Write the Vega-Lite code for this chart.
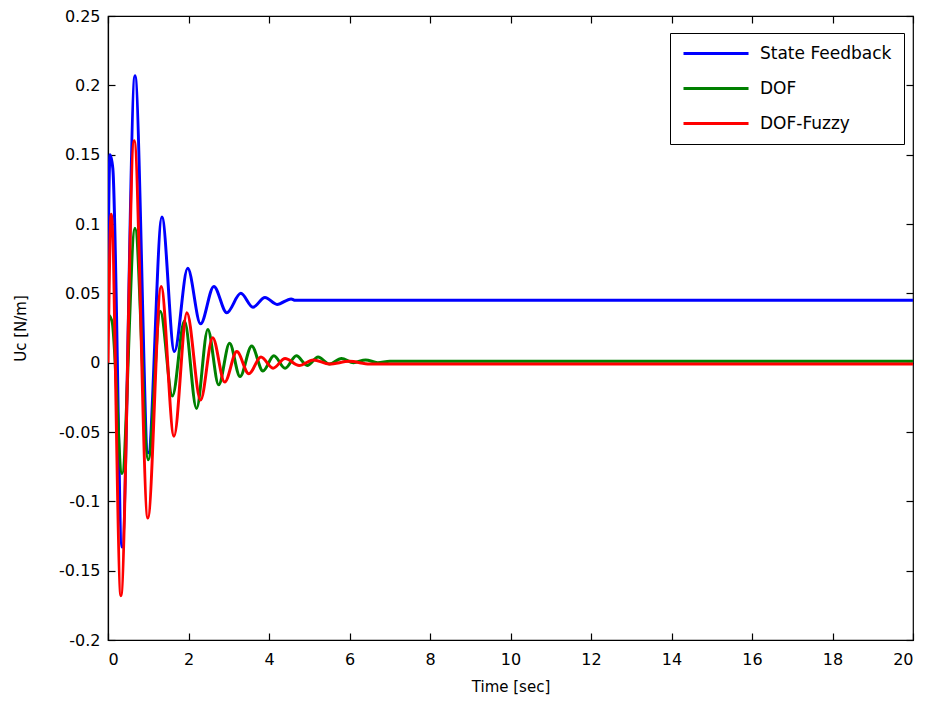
{
  "$schema": "https://vega.github.io/schema/vega-lite/v6.json",
  "autosize": "none",
  "padding": {"left": 108, "top": 16, "right": 12, "bottom": 62},
  "width": 805,
  "height": 624,
  "background": "white",
  "config": {
    "view": {"stroke": "black", "strokeWidth": 1.2},
    "font": "DejaVu Sans",
    "axis": {
      "grid": false,
      "domainColor": "black",
      "tickColor": "black",
      "labelColor": "black",
      "titleColor": "black",
      "labelFont": "DejaVu Sans",
      "titleFont": "DejaVu Sans",
      "labelFontSize": 16,
      "titleFontSize": 15,
      "titleFontWeight": "normal",
      "tickSize": -7,
      "domainWidth": 1.2,
      "tickWidth": 1.2
    }
  },
  "data": {"values": [
    {"t": 0, "v": 0.07, "s": "State Feedback"},
    {"t": 0.05, "v": 0.15, "s": "State Feedback"},
    {"t": 0.12, "v": 0.14, "s": "State Feedback"},
    {"t": 0.35, "v": -0.133, "s": "State Feedback"},
    {"t": 0.67, "v": 0.207, "s": "State Feedback"},
    {"t": 1.0, "v": -0.065, "s": "State Feedback"},
    {"t": 1.34, "v": 0.105, "s": "State Feedback"},
    {"t": 1.65, "v": 0.008, "s": "State Feedback"},
    {"t": 1.98, "v": 0.068, "s": "State Feedback"},
    {"t": 2.3, "v": 0.028, "s": "State Feedback"},
    {"t": 2.63, "v": 0.055, "s": "State Feedback"},
    {"t": 2.95, "v": 0.036, "s": "State Feedback"},
    {"t": 3.3, "v": 0.05, "s": "State Feedback"},
    {"t": 3.6, "v": 0.04, "s": "State Feedback"},
    {"t": 3.9, "v": 0.047, "s": "State Feedback"},
    {"t": 4.2, "v": 0.042, "s": "State Feedback"},
    {"t": 4.55, "v": 0.046, "s": "State Feedback"},
    {"t": 4.65, "v": 0.045, "s": "State Feedback"},
    {"t": 20, "v": 0.045, "s": "State Feedback"},
    {"t": 0, "v": 0.035, "s": "DOF"},
    {"t": 0.1, "v": 0.03, "s": "DOF"},
    {"t": 0.35, "v": -0.08, "s": "DOF"},
    {"t": 0.67, "v": 0.097, "s": "DOF"},
    {"t": 1.0, "v": -0.07, "s": "DOF"},
    {"t": 1.3, "v": 0.037, "s": "DOF"},
    {"t": 1.6, "v": -0.024, "s": "DOF"},
    {"t": 1.9, "v": 0.03, "s": "DOF"},
    {"t": 2.2, "v": -0.033, "s": "DOF"},
    {"t": 2.48, "v": 0.024, "s": "DOF"},
    {"t": 2.75, "v": -0.016, "s": "DOF"},
    {"t": 3.02, "v": 0.014, "s": "DOF"},
    {"t": 3.28, "v": -0.01, "s": "DOF"},
    {"t": 3.57, "v": 0.012, "s": "DOF"},
    {"t": 3.85, "v": -0.006, "s": "DOF"},
    {"t": 4.12, "v": 0.005, "s": "DOF"},
    {"t": 4.4, "v": -0.004, "s": "DOF"},
    {"t": 4.68, "v": 0.005, "s": "DOF"},
    {"t": 4.95, "v": -0.002, "s": "DOF"},
    {"t": 5.22, "v": 0.004, "s": "DOF"},
    {"t": 5.5, "v": -0.001, "s": "DOF"},
    {"t": 5.8, "v": 0.003, "s": "DOF"},
    {"t": 6.1, "v": 0.0, "s": "DOF"},
    {"t": 6.4, "v": 0.002, "s": "DOF"},
    {"t": 6.7, "v": 0.0, "s": "DOF"},
    {"t": 7.0, "v": 0.001, "s": "DOF"},
    {"t": 20, "v": 0.001, "s": "DOF"},
    {"t": 0, "v": 0.0, "s": "DOF-Fuzzy"},
    {"t": 0.08, "v": 0.107, "s": "DOF-Fuzzy"},
    {"t": 0.32, "v": -0.168, "s": "DOF-Fuzzy"},
    {"t": 0.65, "v": 0.16, "s": "DOF-Fuzzy"},
    {"t": 0.99, "v": -0.112, "s": "DOF-Fuzzy"},
    {"t": 1.32, "v": 0.055, "s": "DOF-Fuzzy"},
    {"t": 1.64, "v": -0.053, "s": "DOF-Fuzzy"},
    {"t": 1.96, "v": 0.036, "s": "DOF-Fuzzy"},
    {"t": 2.3, "v": -0.027, "s": "DOF-Fuzzy"},
    {"t": 2.6, "v": 0.018, "s": "DOF-Fuzzy"},
    {"t": 2.9, "v": -0.014, "s": "DOF-Fuzzy"},
    {"t": 3.2, "v": 0.008, "s": "DOF-Fuzzy"},
    {"t": 3.5, "v": -0.008, "s": "DOF-Fuzzy"},
    {"t": 3.8, "v": 0.004, "s": "DOF-Fuzzy"},
    {"t": 4.1, "v": -0.004, "s": "DOF-Fuzzy"},
    {"t": 4.4, "v": 0.003, "s": "DOF-Fuzzy"},
    {"t": 4.75, "v": -0.002, "s": "DOF-Fuzzy"},
    {"t": 5.1, "v": 0.002, "s": "DOF-Fuzzy"},
    {"t": 5.5, "v": -0.001, "s": "DOF-Fuzzy"},
    {"t": 6.0, "v": 0.001, "s": "DOF-Fuzzy"},
    {"t": 6.5, "v": -0.001, "s": "DOF-Fuzzy"},
    {"t": 20, "v": -0.001, "s": "DOF-Fuzzy"}
  ]},
  "layer": [
    {
      "encoding": {
        "x": {"field": "t", "type": "quantitative", "scale": {"domain": [0, 20], "nice": false, "zero": false}, "axis": {"orient": "bottom", "values": [0,2,4,6,8,10,12,14,16,18,20], "title": "Time [sec]", "labelPadding": 18, "titlePadding": 12}},
        "y": {"field": "v", "type": "quantitative", "scale": {"domain": [-0.2, 0.25], "nice": false, "zero": false}, "axis": {"orient": "left", "values": [-0.2,-0.15,-0.1,-0.05,0,0.05,0.1,0.15,0.2,0.25], "labelExpr": "'' + datum.value", "title": "Uc [N/m]", "labelPadding": 15, "titlePadding": 30}},
        "color": {"field": "s", "type": "nominal", "scale": {"domain": ["State Feedback", "DOF", "DOF-Fuzzy"], "range": ["#0000ff", "#008000", "#ff0000"]},
          "legend": {"title": null, "orient": "none", "legendX": 562, "legendY": 17, "fillColor": "white", "strokeColor": "black", "padding": 12, "symbolType": "M-1,0L8.29,0", "symbolSize": 196, "symbolStrokeWidth": 3, "symbolFillColor": "transparent", "labelFontSize": 17, "labelFont": "DejaVu Sans", "labelColor": "black", "labelOffset": 61, "rowPadding": 17}}
      },
      "layer": [
        {
          "transform": [{"filter": "datum.s === 'State Feedback'"}],
          "mark": {"type": "line", "strokeWidth": 3, "interpolate": "monotone", "clip": true}
        },
        {
          "transform": [{"filter": "datum.s === 'DOF'"}],
          "mark": {"type": "line", "strokeWidth": 3, "interpolate": "monotone", "clip": true}
        },
        {
          "transform": [{"filter": "datum.s === 'DOF-Fuzzy'"}],
          "mark": {"type": "line", "strokeWidth": 3, "interpolate": "monotone", "clip": true}
        }
      ]
    },
    {
      "mark": {"type": "line", "opacity": 0},
      "encoding": {
        "x": {"field": "t", "type": "quantitative", "axis": {"orient": "top", "values": [0,2,4,6,8,10,12,14,16,18,20], "labels": false, "title": null, "domain": false}},
        "y": {"field": "v", "type": "quantitative", "axis": {"orient": "right", "values": [-0.2,-0.15,-0.1,-0.05,0,0.05,0.1,0.15,0.2,0.25], "labels": false, "title": null, "domain": false}},
        "detail": {"field": "s"}
      }
    }
  ],
  "resolve": {"axis": {"x": "independent", "y": "independent"}}
}
